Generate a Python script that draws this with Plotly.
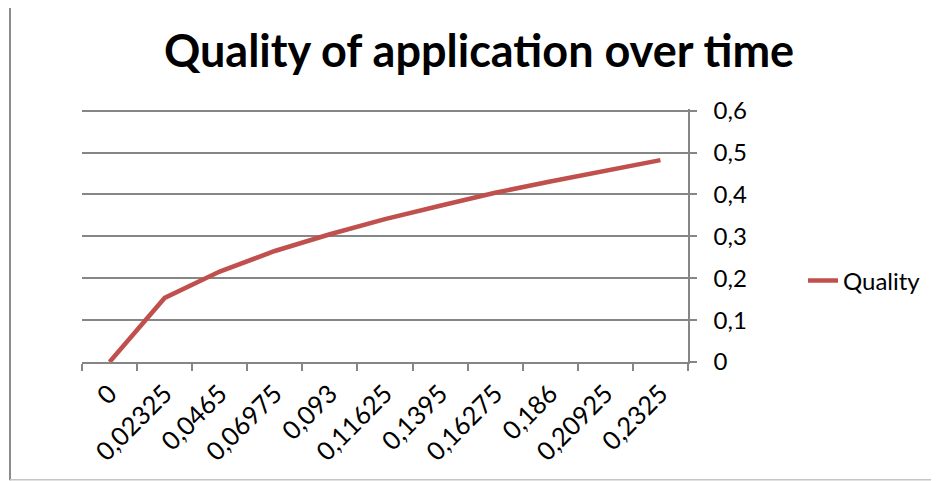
import plotly.graph_objects as go

categories = ["0", "0,02325", "0,0465", "0,06975", "0,093", "0,11625",
              "0,1395", "0,16275", "0,186", "0,20925", "0,2325"]
quality = [0.0, 0.153, 0.216, 0.265, 0.305, 0.341, 0.373, 0.404, 0.431, 0.457, 0.482]
y_ticks = [0, 0.1, 0.2, 0.3, 0.4, 0.5, 0.6]
y_tick_labels = ["0", "0,1", "0,2", "0,3", "0,4", "0,5", "0,6"]

W, H = 939, 481
OFF = 8                      # page body margin in the browser
Y_TOP = 0.604                # a little headroom so the 0.6 grid line is drawn
L, R, B = 82, 688, 362       # plot area on screen
T = B - Y_TOP * (B - 111) / 0.6


def px(x):
    return (x - L) / (R - L)


def py(y):
    return (B - y) / (B - T)


FONT = "Lato, 'Open Sans', sans-serif"
GRID = "#868686"

fig = go.Figure()
fig.add_trace(go.Scatter(
    x=categories, y=quality, mode="lines", name="Quality",
    line=dict(color="#C0504D", width=4.5),
))

fig.update_layout(
    width=W, height=H,
    margin=dict(l=L - OFF, r=W - (R - OFF), t=T - OFF, b=H - (B - OFF),
                pad=0, autoexpand=False),
    paper_bgcolor="white", plot_bgcolor="white",
    font=dict(family=FONT, color="black"),
    title=dict(text="<b>Quality of application over time</b>",
               font=dict(size=45, family=FONT, color="black"),
               x=(479 - OFF) / W, xanchor="center", xref="container",
               y=1 - (51 - OFF) / H, yanchor="middle", yref="container"),
    showlegend=True,
    legend=dict(x=px(803), xanchor="left", y=py(281), yanchor="middle",
                font=dict(size=24, family=FONT), bgcolor="rgba(0,0,0,0)"),
    xaxis=dict(type="category", showgrid=False, showline=True, linecolor=GRID,
               linewidth=1.5, ticks="outside", ticklen=7, tickcolor=GRID,
               tickwidth=1.5, tickson="boundaries", tickangle=-45,
               tickfont=dict(size=25.5, family=FONT), zeroline=False,
               automargin=False, ticklabelstandoff=5,
               range=[-0.5, len(categories) - 0.5]),
    yaxis=dict(side="right", range=[0, Y_TOP], tickvals=y_ticks,
               ticktext=y_tick_labels, showgrid=True, gridcolor=GRID,
               gridwidth=1.5, showline=True, linecolor=GRID, linewidth=1.5,
               ticks="outside", ticklen=7, tickcolor=GRID, tickwidth=1.5,
               tickfont=dict(size=24, family=FONT), zeroline=False,
               automargin=False, ticklabelstandoff=12),
    shapes=[
        dict(type="line", xref="paper", yref="paper", x0=px(10), x1=px(10),
             y0=py(0), y1=py(480), line=dict(color="#8c8c8c", width=2)),
        dict(type="line", xref="paper", yref="paper", x0=px(10), x1=px(945),
             y0=py(0.5), y1=py(0.5), line=dict(color="#d4d4d4", width=1.5)),
        dict(type="line", xref="paper", yref="paper", x0=px(10), x1=px(945),
             y0=py(479.5), y1=py(479.5), line=dict(color="#c4c4c4", width=1.5)),
    ],
)

fig.write_html("out.html")
